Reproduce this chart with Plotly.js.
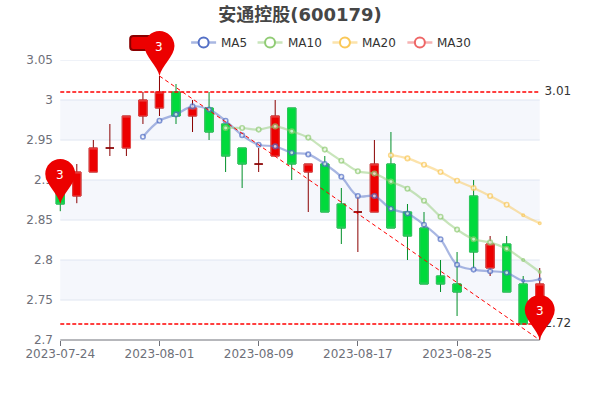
<!DOCTYPE html>
<html><head><meta charset="utf-8">
<script src="https://cdn.plot.ly/plotly-3.0.1.min.js"></script>
<style>html,body{margin:0;padding:0;background:#fff}#c{width:600px;height:400px}</style>
</head><body><div id="c"></div>
<script>
var dates=['2023-07-24','2023-07-25','2023-07-26','2023-07-27','2023-07-28','2023-07-31','2023-08-01','2023-08-02','2023-08-03','2023-08-04','2023-08-07','2023-08-08','2023-08-09','2023-08-10','2023-08-11','2023-08-14','2023-08-15','2023-08-16','2023-08-17','2023-08-18','2023-08-21','2023-08-22','2023-08-23','2023-08-24','2023-08-25','2023-08-28','2023-08-29','2023-08-30','2023-08-31','2023-09-01'];
var open_=[2.89,2.88,2.91,2.94,2.94,2.98,2.99,3.01,2.98,2.99,2.97,2.94,2.9199,2.93,2.99,2.91,2.92,2.87,2.86,2.86,2.92,2.86,2.84,2.78,2.77,2.88,2.79,2.82,2.77,2.72];
var close_=[2.87,2.91,2.94,2.94,2.98,3.00,3.01,2.98,2.99,2.96,2.93,2.92,2.92,2.98,2.92,2.92,2.86,2.84,2.86,2.92,2.84,2.83,2.77,2.77,2.76,2.81,2.82,2.76,2.72,2.77];
var low_=[2.861,2.871,2.91,2.93,2.93,2.97,2.98,2.97,2.96,2.95,2.91,2.89,2.91,2.93,2.90,2.86,2.86,2.82,2.81,2.86,2.84,2.80,2.77,2.76,2.73,2.79,2.78,2.76,2.72,2.70];
var high_=[2.89,2.92,2.95,2.97,2.98,3.01,3.03,3.02,3.00,3.01,2.97,2.94,2.94,3.00,2.99,2.92,2.93,2.89,2.88,2.95,2.96,2.87,2.86,2.80,2.81,2.90,2.83,2.83,2.78,2.79];
var ma5=[null,null,null,null,null,2.954,2.974,2.982,2.992,2.988,2.974,2.956,2.944,2.942,2.934,2.932,2.92,2.904,2.88,2.88,2.864,2.858,2.844,2.826,2.794,2.788,2.786,2.784,2.774,2.776];
var ma10=[null,null,null,null,null,null,null,null,null,null,2.965,2.965,2.963,2.967,2.961,2.953,2.938,2.924,2.911,2.908,2.898,2.889,2.874,2.854,2.838,2.826,2.822,2.814,2.80,2.785];
var ma20=[null,null,null,null,null,null,null,null,null,null,null,null,null,null,null,null,null,null,null,null,2.931,2.927,2.919,2.91,2.899,2.89,2.88,2.869,2.856,2.846];
var ma30=[];
var yTicks=[2.7,2.75,2.8,2.85,2.9,2.95,3,3.05];
var yLabels=['2.7','2.75','2.8','2.85','2.9','2.95','3','3.05'];
var xTicks=['2023-07-24','2023-08-01','2023-08-09','2023-08-17','2023-08-25'];
var maxLine=3.01, minLine=2.72;
var pinDates=['2023-07-24','2023-08-01','2023-09-01'];
var pinValues=[2.87,3.03,2.70];
var pinLabels=['3','3','3'];
var diagDates=['2023-08-01','2023-09-01'];
var diagValues=[3.03,2.70];
var legendNames=['MA5','MA10','MA20','MA30'];

var FONT='"DejaVu Sans", "Noto Sans CJK SC", sans-serif';
var L=60-480/58, R=540+480/58, T=60, B=340;
function px(x){return (x-L)/(R-L);}
function py(y){return (B-y)/(B-T);}
var blue='#5470c6',green='#91cc75',yellow='#fac858',red='#ee6666';
var blueL='rgba(84,112,198,0.5)',greenL='rgba(145,204,117,0.5)',yellowL='rgba(250,200,88,0.5)',redL='rgba(238,102,102,0.5)';

function ma(name,y,c,cl){
  var sizes=y.map(function(v,i){return i>=28?2.5:4.5;});
  return {type:'scatter',mode:'lines+markers',x:dates.slice(0,y.length),y:y,name:name,cliponaxis:false,
    line:{color:cl,width:2.2,shape:'spline',smoothing:1},
    marker:{size:sizes,color:'#fff',line:{color:c,width:1.6}},hoverinfo:'skip',showlegend:false};
}
var n=dates.length;
// candle bodies drawn over the wicks, so that the pale body edge differs from the dark wick; flat candles stay wick-only
var bodyOpen=open_.map(function(v,i){return Math.abs(v-close_[i])<0.001?null:v;});
var bodyHigh=open_.map(function(v,i){return Math.max(v,close_[i]);});
var bodyLow=open_.map(function(v,i){return Math.min(v,close_[i]);});
var traces=[
 {type:'candlestick',name:'日K',x:dates,open:open_,close:close_,low:low_,high:high_,whiskerwidth:0,
  increasing:{line:{color:'#8A0000',width:1},fillcolor:'#ec0000'},
  decreasing:{line:{color:'#008F28',width:1},fillcolor:'#00da3c'},showlegend:false,hoverinfo:'skip'},
 {type:'candlestick',name:'日K body',x:dates,open:bodyOpen,close:close_,low:bodyLow,high:bodyHigh,whiskerwidth:0,
  increasing:{line:{color:'#e44a4a',width:1},fillcolor:'#ec0000'},
  decreasing:{line:{color:'#2fc85e',width:1},fillcolor:'#00da3c'},showlegend:false,hoverinfo:'skip'},
 ma('MA5',ma5,blue,blueL),ma('MA10',ma10,green,greenL),ma('MA20',ma20,yellow,yellowL),ma('MA30',ma30,red,redL),
 {type:'scatter',mode:'lines',x:[dates[0],dates[n-1]],y:[maxLine,maxLine],line:{color:'#f00',width:1.3,dash:'4px,2px'},hoverinfo:'skip',showlegend:false},
 {type:'scatter',mode:'lines',x:[dates[0],dates[n-1]],y:[minLine,minLine],line:{color:'#f00',width:1.3,dash:'4px,2px'},hoverinfo:'skip',showlegend:false},
 {type:'scatter',mode:'lines',x:diagDates,y:diagValues,line:{color:'#f00',width:1,dash:'4px,3px'},hoverinfo:'skip',showlegend:false},
 {type:'scatter',mode:'text+markers',x:[dates[n-1],dates[n-1]],y:[maxLine,minLine],text:[String(maxLine),String(minLine)],textposition:'middle right',cliponaxis:false,
  marker:{size:6,opacity:0},textfont:{family:FONT,size:12,color:'#333'},hoverinfo:'skip',showlegend:false},
 {type:'scatter',mode:'text+markers',x:[dates[6]],y:[3.05+18/800],text:['日K'],textposition:'middle right',cliponaxis:false,
  marker:{size:3,opacity:0},textfont:{family:FONT,size:12,color:'#333'},hoverinfo:'skip',showlegend:false}
];

var shapes=[];
[[3,2.95],[2.9,2.85],[2.8,2.75]].forEach(function(b){
  shapes.push({type:'rect',layer:'below',xref:'x',yref:'y',x0:dates[0],x1:dates[n-1],y0:b[0],y1:b[1],line:{width:0},fillcolor:'#f5f7fc'});
});
yTicks.slice(1).forEach(function(v){
  shapes.push({type:'line',layer:'below',xref:'x',yref:'y',x0:dates[0],x1:dates[n-1],y0:v,y1:v,line:{color:'#E0E6F1',width:1}});
});
shapes.push({type:'line',layer:'above',xref:'paper',yref:'paper',x0:px(60),x1:px(540),y0:0,y1:0,line:{color:'#6E7079',width:1}});

var anns=[];
shapes.push({type:'path',layer:'above',xref:'paper',yref:'paper',xsizemode:'pixel',ysizemode:'pixel',xanchor:px(130),yanchor:py(50),
  path:'M3,0 L22,0 Q25,0 25,3 L25,11 Q25,14 22,14 L3,14 Q0,14 0,11 L0,3 Q0,0 3,0 Z',fillcolor:'#ec0000',line:{color:'#8A0000',width:2}});
var legendX=[191,257.5,332.5,407.5],legendC=[blue,green,yellow,red],legendL=[blueL,greenL,yellowL,redL];
legendNames.forEach(function(nm,i){
  var x=legendX[i];
  shapes.push({type:'line',layer:'above',xref:'paper',yref:'paper',x0:px(x),x1:px(x+25),y0:py(42.5),y1:py(42.5),line:{color:legendL[i],width:2.5}});
  shapes.push({type:'circle',layer:'above',xref:'paper',yref:'paper',x0:px(x+7.5),x1:px(x+17.5),y0:py(37.5),y1:py(47.5),fillcolor:'#fff',line:{color:legendC[i],width:2}});
  anns.push({xref:'paper',yref:'paper',x:px(x+30),y:py(42.5),xanchor:'left',yanchor:'middle',showarrow:false,text:nm,xshift:-2,font:{family:FONT,size:12,color:'#333'}});
});
pinDates.forEach(function(d,i){
  var idx=dates.indexOf(d);
  var v=pinValues[i];
  var xf=(idx+0.5)/n, yf=(v-2.7)/0.35;
  shapes.push({type:'path',layer:'above',xref:'paper',yref:'paper',xsizemode:'pixel',ysizemode:'pixel',xanchor:xf,yanchor:yf,
    path:'M0,0 C-2,10 -15,20 -15,30 C-15,38.3 -8.3,45 0,45 C8.3,45 15,38.3 15,30 C15,20 2,10 0,0 Z',fillcolor:'#ec0000',line:{width:0}});
  anns.push({xref:'x',yref:'y',x:d,y:v,yshift:29,showarrow:false,text:pinLabels[i],font:{family:FONT,size:12,color:'#fff'}});
});

var layout={width:600,height:400,paper_bgcolor:'#fff',plot_bgcolor:'#fff',showlegend:false,dragmode:false,
 margin:{l:L,r:600-R,t:T,b:400-B,pad:0},boxgap:0.5,boxgroupgap:0,boxmode:'overlay',
 title:{text:'<b>安通控股(600179)</b>',x:0.5,xanchor:'center',y:1-15/400,yanchor:'middle',font:{family:FONT,size:18,color:'#464646'}},
 xaxis:{type:'category',categoryorder:'array',categoryarray:dates,range:[-0.5,n-0.5],autorange:false,rangeslider:{visible:false},
   tickmode:'array',tickvals:xTicks,ticktext:xTicks,ticks:'outside',ticklen:5,tickcolor:'#6E7079',showgrid:false,zeroline:false,showline:false,ticklabelstandoff:-2,
   tickfont:{family:FONT,size:12,color:'#6E7079'}},
 yaxis:{range:[2.7,3.05],autorange:false,tickmode:'array',tickvals:yTicks,ticktext:yLabels,showgrid:false,zeroline:false,showline:false,ticks:'',ticklabelstandoff:-2,
   tickfont:{family:FONT,size:12,color:'#6E7079'}},
 shapes:shapes,annotations:anns};
Plotly.newPlot('c',traces,layout,{staticPlot:true,displayModeBar:false});
</script></body></html>
